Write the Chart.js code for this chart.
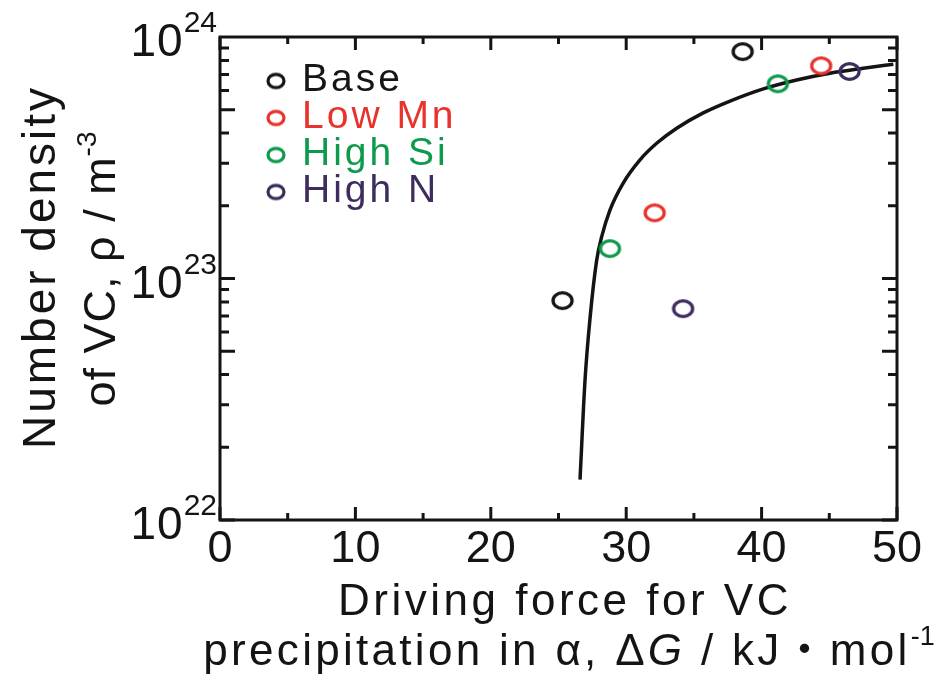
<!DOCTYPE html>
<html>
<head>
<meta charset="utf-8">
<script src="https://cdn.jsdelivr.net/npm/chart.js@4/dist/chart.umd.min.js"></script>
<style>
  html, body { margin: 0; padding: 0; background: #ffffff; }
  canvas { display: block; }
</style>
</head>
<body>
<canvas id="chart" width="939" height="685"></canvas>
<script>
// Series names and colours (legend order)
const seriesNames  = ['Base', 'Low Mn', 'High Si', 'High N'];
const seriesColors = ['#161616', '#e8332d', '#0e9a4c', '#3d2c5d'];

// Measured points: driving force ΔG (kJ/mol) and VC number density (m^-3)
const baseX   = [25.3, 38.6];
const baseY   = [8.1e22, 8.7e23];
const lowMnX  = [32.1, 44.4];
const lowMnY  = [1.87e23, 7.6e23];
const highSiX = [28.8, 41.2];
const highSiY = [1.33e23, 6.4e23];
const highNX  = [34.2, 46.5];
const highNY  = [7.5e22, 7.2e23];

// Calculated curve
const curveX = [26.59, 26.96, 27.33, 27.82, 28.19, 28.80, 29.79, 31.02, 32.25, 33.73, 35.69, 37.67, 40.13, 42.59, 45.05, 47.51, 49.73];
const curveY = [1.47e22, 3.8e22, 6.86e22, 1.19e23, 1.49e23, 1.92e23, 2.49e23, 3.10e23, 3.63e23, 4.19e23, 4.85e23, 5.43e23, 6.10e23, 6.64e23, 7.08e23, 7.42e23, 7.71e23];

// Axis ticks
const xMajorTicks = [0, 10, 20, 30, 40, 50];
const xMinorTicks = [5, 15, 25, 35, 45];
const yExponents  = [22, 23, 24];

const FONT = '"Liberation Sans", Arial, Helvetica, sans-serif';
const INK = '#141414';

// Open elliptical ring used as the marker image
function ringImage(color, rx, ry, lw) {
  const c = document.createElement('canvas');
  const w = Math.ceil(2 * rx + lw + 2), h = Math.ceil(2 * ry + lw + 2);
  c.width = w; c.height = h;
  const g = c.getContext('2d');
  g.strokeStyle = color;
  g.lineWidth = lw;
  g.beginPath();
  g.ellipse(w / 2, h / 2, rx, ry, 0, 0, Math.PI * 2);
  g.stroke();
  return c;
}

const pts = (xs, ys) => xs.map((v, i) => ({ x: v, y: ys[i] }));
const seriesX = [baseX, lowMnX, highSiX, highNX];
const seriesY = [baseY, lowMnY, highSiY, highNY];

const markerSets = seriesNames.map((name, i) => ({
  type: 'scatter',
  label: name,
  data: pts(seriesX[i], seriesY[i]),
  pointStyle: ringImage(seriesColors[i], 9.5, 7.8, 3.3),
  legendMarker: ringImage(seriesColors[i], 8, 6.6, 3.2),
  borderColor: seriesColors[i],
  backgroundColor: seriesColors[i],
  showLine: false,
  order: 0
}));

const curveSet = {
  type: 'line',
  label: 'curve',
  data: pts(curveX, curveY),
  borderColor: INK,
  borderWidth: 3.5,
  pointRadius: 0,
  cubicInterpolationMode: 'monotone',
  fill: false,
  order: 1
};

// Text helpers with letter spacing
function textWidth(ctx, s, font, spacing) {
  ctx.font = font;
  ctx.letterSpacing = spacing + 'px';
  return ctx.measureText(s).width;
}
function drawRuns(ctx, runs, cx, cy) {
  // runs: [{t, font, sp, dy}] drawn left to right, centred on cx
  let total = 0;
  runs.forEach(r => { r.w = textWidth(ctx, r.t, r.font, r.sp); total += r.w; });
  let x = cx - total / 2;
  runs.forEach(r => {
    ctx.font = r.font;
    ctx.letterSpacing = r.sp + 'px';
    ctx.textAlign = 'left';
    ctx.textBaseline = 'alphabetic';
    ctx.fillText(r.t, x, cy + (r.dy || 0));
    x += r.w;
  });
}

const decorPlugin = {
  id: 'decor',
  afterDatasetsDraw(chart) {
    const { ctx, chartArea: a, scales: { x, y } } = chart;
    ctx.save();
    ctx.strokeStyle = INK;
    ctx.lineWidth = 3;
    ctx.lineCap = 'butt';
    ctx.beginPath();
    // inward ticks on bottom and top edges
    xMajorTicks.forEach(v => {
      const p = x.getPixelForValue(v);
      ctx.moveTo(p, a.bottom); ctx.lineTo(p, a.bottom - 13);
      ctx.moveTo(p, a.top);    ctx.lineTo(p, a.top + 13);
    });
    xMinorTicks.forEach(v => {
      const p = x.getPixelForValue(v);
      ctx.moveTo(p, a.bottom); ctx.lineTo(p, a.bottom - 7);
      ctx.moveTo(p, a.top);    ctx.lineTo(p, a.top + 7);
    });
    // inward log ticks on left and right edges
    for (let e = yExponents[0]; e < yExponents[yExponents.length - 1]; e++) {
      for (let k = 1; k <= 9; k++) {
        const p = y.getPixelForValue(k * Math.pow(10, e));
        const len = (k === 1 || k === 5) ? 15 : 9;
        ctx.moveTo(a.left, p);  ctx.lineTo(a.left + len, p);
        ctx.moveTo(a.right, p); ctx.lineTo(a.right - len, p);
      }
    }
    ctx.stroke();
    ctx.lineWidth = 3;
    ctx.strokeRect(a.left, a.top, a.right - a.left, a.bottom - a.top);
    ctx.restore();
  },
  afterDraw(chart) {
    const { ctx, scales: { y } } = chart;
    ctx.save();
    ctx.fillStyle = INK;

    // y tick labels 10^n
    yExponents.forEach(e => {
      const p = y.getPixelForValue(Math.pow(10, e));
      const supFont = '30px ' + FONT;
      const baseFont = '46px ' + FONT;
      const sw = textWidth(ctx, String(e), supFont, 0);
      ctx.textAlign = 'right';
      ctx.textBaseline = 'alphabetic';
      ctx.font = supFont; ctx.letterSpacing = '0px';
      ctx.fillText(String(e), 217, p - 5);
      ctx.font = baseFont; ctx.letterSpacing = '1px';
      ctx.fillText('10', 217 - sw, p + 19);
    });

    // y axis title (two rotated lines)
    ctx.save();
    ctx.translate(55, 267);
    ctx.rotate(-Math.PI / 2);
    drawRuns(ctx, [{ t: 'Number density', font: '46px ' + FONT, sp: 3 }], 0, 0);
    ctx.restore();
    ctx.save();
    ctx.translate(115, 269);
    ctx.rotate(-Math.PI / 2);
    drawRuns(ctx, [
      { t: 'of VC, ρ / m', font: '45px ' + FONT, sp: 1 },
      { t: '-3', font: '28px ' + FONT, sp: 0, dy: -19 }
    ], 0, 0);
    ctx.restore();

    // x axis title
    drawRuns(ctx, [{ t: 'Driving force for VC', font: '44px ' + FONT, sp: 3.5 }], 565, 615);
    drawRuns(ctx, [
      { t: 'precipitation in α, Δ', font: '44px ' + FONT, sp: 3.3 },
      { t: 'G', font: 'italic 44px ' + FONT, sp: 3.3 },
      { t: ' / kJ', font: '44px ' + FONT, sp: 3.3 },
      { t: '・', font: '44px "Noto Sans CJK JP", ' + FONT, sp: 3.3 },
      { t: 'mol', font: '44px ' + FONT, sp: 3.3 },
      { t: '-1', font: '27px ' + FONT, sp: 0, dy: -20 }
    ], 569, 665);

    // legend inside the plot
    const rows = chart.data.datasets.filter(d => d.legendMarker);
    rows.forEach((d, i) => {
      const base = 91 + i * 37;
      const m = d.legendMarker;
      ctx.drawImage(m, 276 - m.width / 2, base - 10 - m.height / 2);
      ctx.fillStyle = d.borderColor;
      ctx.font = '39px ' + FONT;
      ctx.letterSpacing = '3px';
      ctx.textAlign = 'left';
      ctx.textBaseline = 'alphabetic';
      ctx.fillText(d.label, 302, base);
    });
    ctx.restore();
  }
};

new Chart(document.getElementById('chart'), {
  data: { datasets: [...markerSets, curveSet] },
  options: {
    responsive: false,
    animation: false,
    devicePixelRatio: 1,
    layout: { padding: { top: 37, right: 42, left: 0, bottom: 0 } },
    plugins: { legend: { display: false }, tooltip: { enabled: false } },
    scales: {
      x: {
        type: 'linear',
        min: 0, max: 50,
        grid: { display: false, drawTicks: false },
        border: { display: false },
        ticks: {
          stepSize: 10,
          padding: 3,
          color: INK,
          font: { family: FONT, size: 45 }
        },
        afterFit: s => { s.height = 165; }
      },
      y: {
        type: 'logarithmic',
        min: 1e22, max: 1e24,
        grid: { display: false, drawTicks: false },
        border: { display: false },
        ticks: { display: false },
        afterFit: s => { s.width = 220; }
      }
    }
  },
  plugins: [decorPlugin]
});
</script>
</body>
</html>
